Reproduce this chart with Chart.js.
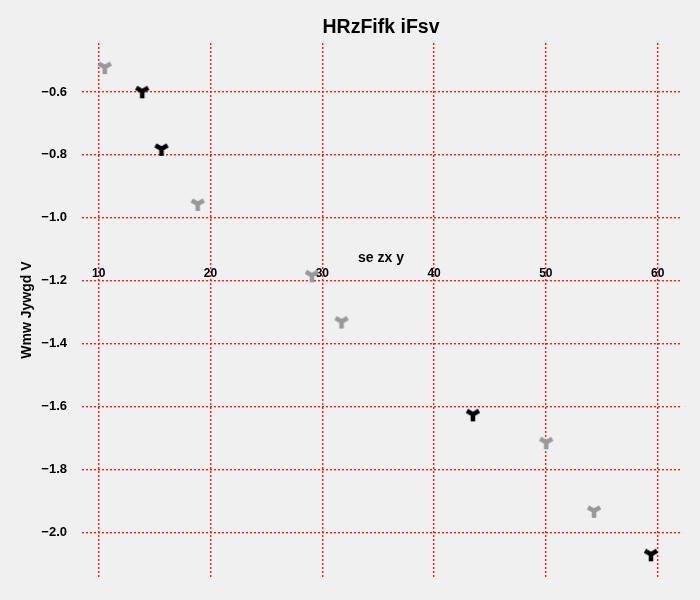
<!DOCTYPE html>
<html lang="en">
<head>
    <meta charset="UTF-8">
    <title>HRzFifk iFsv</title>
    <script src="https://cdn.jsdelivr.net/npm/chart.js"></script>
    <style>
        html, body {
            margin: 0;
            padding: 0;
            background-color: #f0f0f0;
        }
        canvas {
            display: block;
        }
    </style>
</head>
<body>

<canvas id="scatterChart" width="700" height="600"></canvas>

<script>
    // data
    const grayX = [10.54, 18.85, 29.07, 31.72, 50.03, 54.31];
    const grayY = [-0.521, -0.956, -1.183, -1.330, -1.714, -1.932];
    const blackX = [13.89, 15.61, 43.47, 59.40];
    const blackY = [-0.598, -0.781, -1.625, -2.070];

    const xTicks = [10, 20, 30, 40, 50, 60];
    const yTicks = [-0.6, -0.8, -1.0, -1.2, -1.4, -1.6, -1.8, -2.0];

    const fontFamily = '"Liberation Sans", Arial, sans-serif';

    // tri_down marker drawn on a small canvas
    function triMarker(color) {
        const c = document.createElement('canvas');
        c.width = 20;
        c.height = 20;
        const g = c.getContext('2d');
        g.strokeStyle = color;
        g.lineWidth = 4.5;
        g.lineCap = 'butt';
        const r = 7;
        g.beginPath();
        g.moveTo(10, 10); g.lineTo(10, 10 + r);
        g.moveTo(10, 10); g.lineTo(10 - r * 0.866, 10 - r * 0.5);
        g.moveTo(10, 10); g.lineTo(10 + r * 0.866, 10 - r * 0.5);
        g.stroke();
        return c;
    }

    const toPoints = (xs, ys) => xs.map((x, i) => ({ x: x, y: ys[i] }));
    const minus = v => v.toFixed(1).replace('-', '\u2212');

    const gridStyle = {
        color: '#ff1a1a',
        lineWidth: 1.4,
        drawTicks: false
    };
    // in v4 the grid line dash comes from border.dash
    const noBorder = { display: false, dash: [2, 2] };

    const ctx = document.getElementById('scatterChart').getContext('2d');
    const chart = new Chart(ctx, {
        type: 'scatter',
        data: {
            datasets: [{
                label: 'gray',
                data: toPoints(grayX, grayY),
                pointStyle: triMarker('#999999'),
                pointRadius: 8
            }, {
                label: 'black',
                data: toPoints(blackX, blackY),
                pointStyle: triMarker('#000000'),
                pointRadius: 8
            }]
        },
        options: {
            responsive: false,
            animation: false,
            events: [],
            layout: {
                padding: { left: 0, right: 20, top: 0, bottom: 22 }
            },
            plugins: {
                legend: { display: false },
                tooltip: { enabled: false },
                title: {
                    display: true,
                    fullSize: false,
                    text: 'HRzFifk iFsv',
                    color: '#000',
                    font: { family: fontFamily, size: 19.5, weight: 'bold' },
                    padding: { top: 16, bottom: 3.6 }
                }
            },
            scales: {
                x: {
                    type: 'linear',
                    position: { y: -1.2 },
                    min: 8.5,
                    max: 62,
                    afterBuildTicks: s => { s.ticks = xTicks.map(v => ({ value: v })); },
                    border: noBorder,
                    grid: gridStyle,
                    ticks: {
                        color: '#000',
                        padding: -14,
                        maxRotation: 0,
                        font: { family: fontFamily, size: 12, weight: 'bold' },
                        callback: v => String(v)
                    },
                    title: {
                        display: true,
                        text: 'se zx y',
                        color: '#000',
                        font: { family: fontFamily, size: 14, weight: 'bold' },
                        padding: { top: -17.5, bottom: 0 }
                    }
                },
                y: {
                    type: 'linear',
                    min: -2.1429,
                    max: -0.4444,
                    afterBuildTicks: s => { s.ticks = yTicks.map(v => ({ value: v })); },
                    afterFit: s => { s.width = 82; },
                    border: noBorder,
                    grid: gridStyle,
                    ticks: {
                        color: '#000',
                        padding: 15,
                        font: { family: fontFamily, size: 13, weight: 'bold' },
                        callback: v => minus(v)
                    },
                    title: {
                        display: true,
                        text: 'Wmw Jywgd V',
                        color: '#000',
                        font: { family: fontFamily, size: 14, weight: 'bold' },
                        padding: { top: 18.6, bottom: 0 }
                    }
                }
            }
        }
    });
</script>

</body>
</html>
